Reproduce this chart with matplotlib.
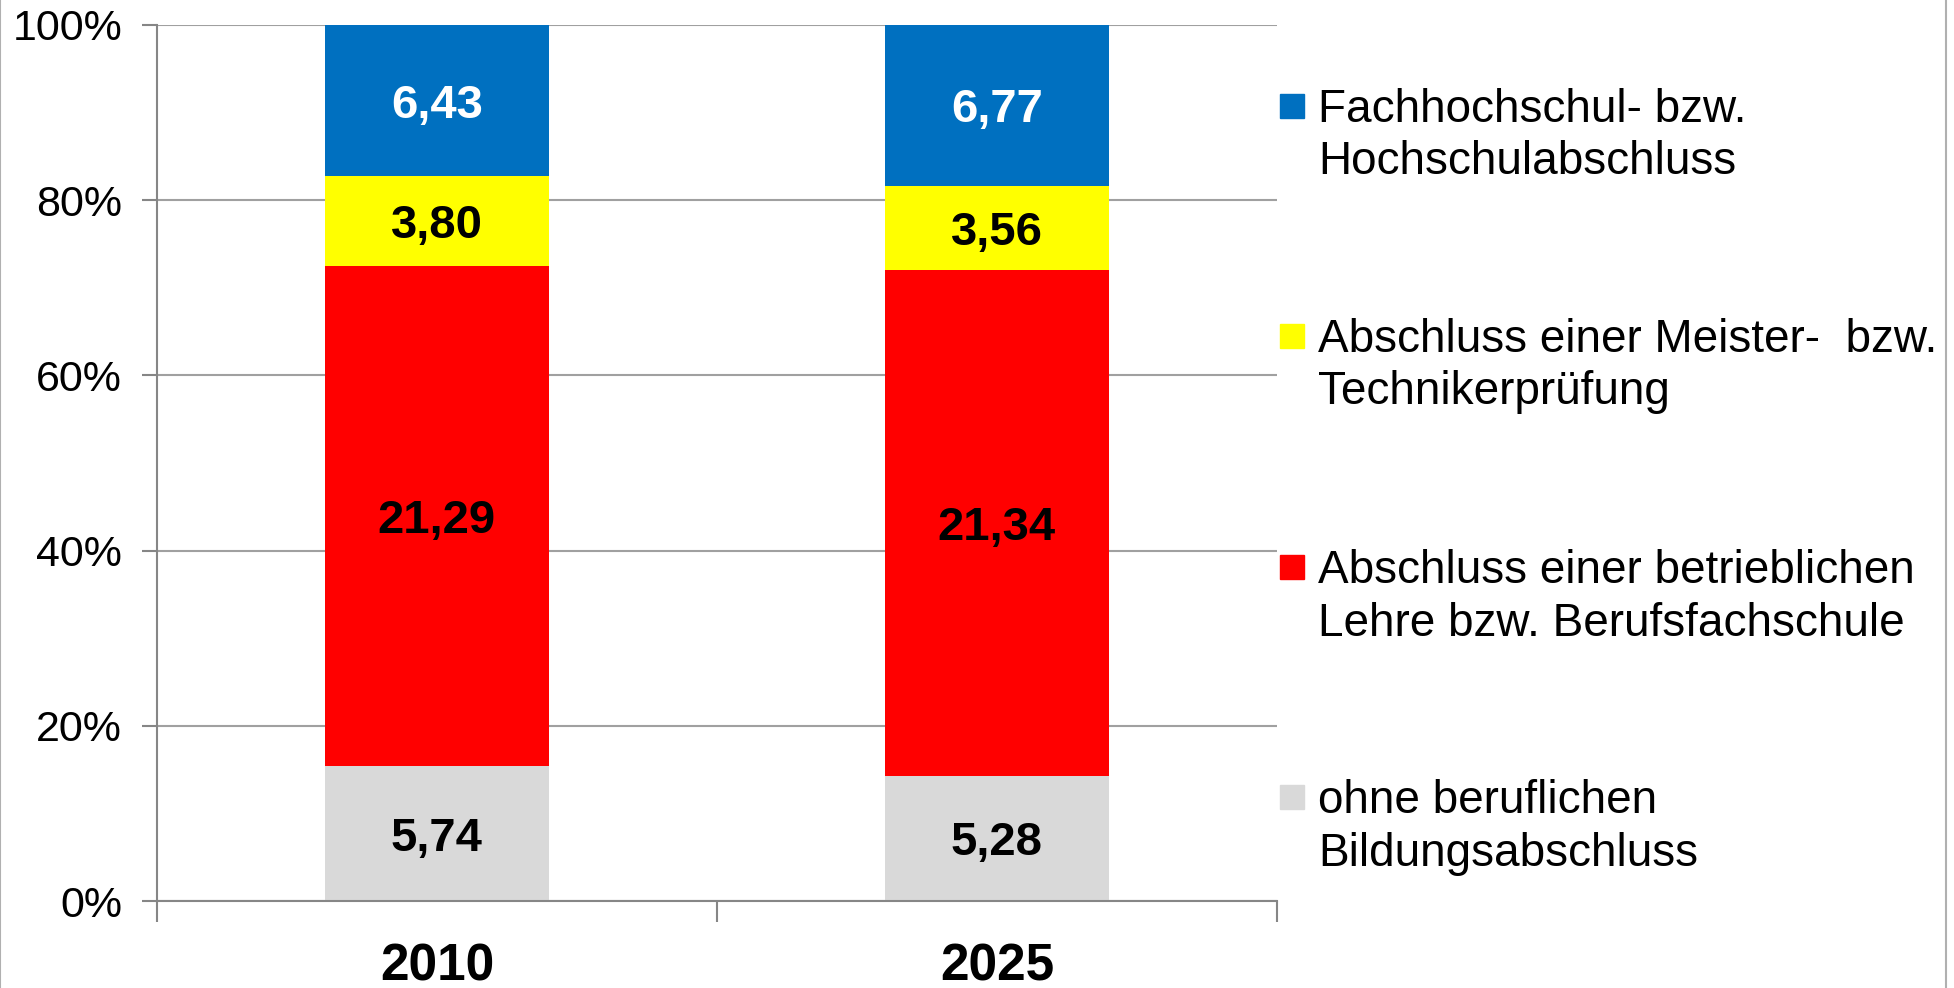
import matplotlib.pyplot as plt
import matplotlib.patches as mpatches
import numpy as np

plt.rcParams['font.family'] = ['Liberation Sans', 'DejaVu Sans']

years = ['2010', '2025']
series_names = [
    'ohne beruflichen\nBildungsabschluss',
    'Abschluss einer betrieblichen\nLehre bzw. Berufsfachschule',
    'Abschluss einer Meister-  bzw.\nTechnikerprüfung',
    'Fachhochschul- bzw.\nHochschulabschluss',
]
ohne = [5.74, 5.28]
lehre = [21.29, 21.34]
meister = [3.80, 3.56]
hochschule = [6.43, 6.77]
colors = ['#D9D9D9', '#FF0000', '#FFFF00', '#0070C0']
label_colors = ['black', 'black', 'black', 'white']

values = np.array([ohne, lehre, meister, hochschule])
shares = values / values.sum(axis=0) * 100

fig = plt.figure(figsize=(19.54, 9.88), dpi=100)
ax = fig.add_axes([0.0803, 0.088, 0.5732, 0.8867])

x = np.arange(len(years))
bottom = np.zeros(len(years))
for i in range(len(values)):
    ax.bar(x, shares[i], 0.4, bottom=bottom, color=colors[i], zorder=2)
    for j in range(len(years)):
        ax.text(x[j], bottom[j] + shares[i][j] / 2, f'{values[i][j]:.2f}'.replace('.', ','),
                ha='center', va='center_baseline', fontsize=34, fontweight='bold',
                color=label_colors[i], zorder=3)
    bottom += shares[i]

ax.set_xlim(-0.5, 1.5)
ax.set_ylim(0, 100)
ax.set_yticks(np.arange(0, 101, 20))
ax.set_yticklabels([f'{v}%' for v in range(0, 101, 20)], fontsize=31)
ax.set_xticks(x)
ax.set_xticklabels(years, fontsize=37, fontweight='bold')
ax.set_xticks([-0.5, 0.5, 1.5], minor=True)
ax.tick_params(axis='x', which='major', length=0, pad=30)
ax.tick_params(axis='x', which='minor', length=15, width=1.5, color='#868686', direction='out')
ax.tick_params(axis='y', length=11, width=1.5, color='#868686', pad=14)
ax.grid(axis='y', color='#A0A0A0', linewidth=1.5, zorder=0)
for side in ['top', 'right']:
    ax.spines[side].set_visible(False)
for side in ['left', 'bottom']:
    ax.spines[side].set_color('#868686')
    ax.spines[side].set_linewidth(1.5)
ax.set_axisbelow(True)

# legend, top entry first, square aligned with first text line
W, H = 1954, 988
first_line_y = [106, 336, 567, 797]
for k, i in enumerate(reversed(range(len(series_names)))):
    yc = first_line_y[k]
    fig.patches.append(mpatches.Rectangle((1280 / W, 1 - (yc + 12) / H), 24 / W, 24 / H,
                                          transform=fig.transFigure, color=colors[i]))
    fig.text(1318 / W, 1 - (yc - 18) / H, series_names[i], fontsize=33, va='top', ha='left',
             linespacing=1.25)

fig.patches.append(mpatches.Rectangle((0, -0.1), 1946 / W, 1.2, transform=fig.transFigure,
                                      fill=False, edgecolor='#B0B0B0', linewidth=1.5))

fig.savefig('out.png', dpi=100)
